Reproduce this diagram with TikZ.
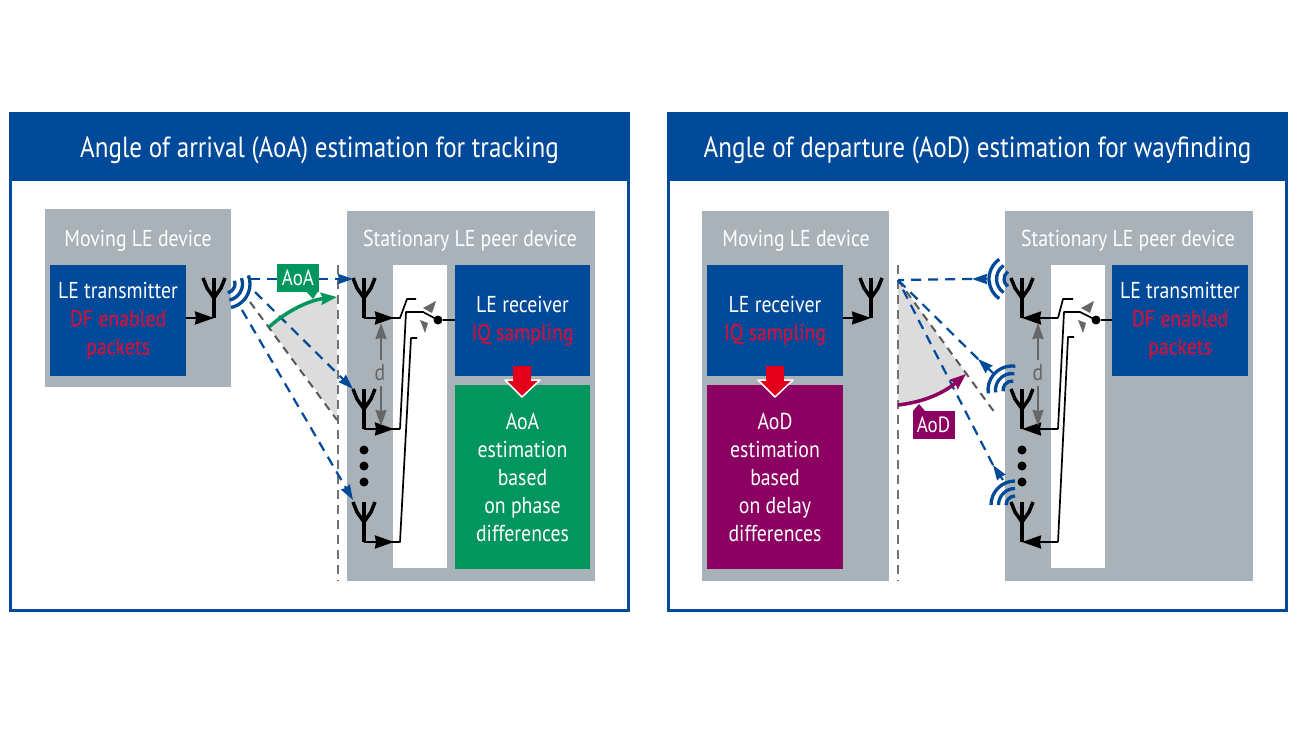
\documentclass[tikz,border=0pt]{standalone}
\usepackage{fontspec}
\setmainfont[FakeStretch=0.86]{PT Sans}
\usetikzlibrary{arrows.meta, calc}
\definecolor{leblue}{HTML}{004A99}
\definecolor{legrey}{HTML}{A9B2B8}
\definecolor{legreen}{HTML}{00965E}
\definecolor{lepurple}{HTML}{8C0062}
\definecolor{lered}{HTML}{C8143F}
\definecolor{learrow}{HTML}{E2001A}
\definecolor{lesector}{HTML}{DCDCDC}
\definecolor{ledash}{HTML}{55595C}
\newcommand{\fsize}[1]{\fontsize{#1}{28}\selectfont}
\newcommand{\redtxt}[1]{\textcolor{lered}{\addfontfeature{FakeBold=0.5}#1}}
\tikzset{
  frame/.style={draw=leblue, line width=3.5pt, outer sep=0pt, anchor=north west, minimum width=618pt, minimum height=497pt},
  headbar/.style={fill=leblue, outer sep=0pt, anchor=north west, minimum width=621pt, minimum height=69pt,
    text=white, text height=27pt, text depth=6pt, font=\fsize{29.2}},
  box/.style={anchor=north west, inner sep=0pt, outer sep=0pt, text=white, align=center, font=\fsize{23}},
  greybox/.style={box, fill=legrey},
  bluebox/.style={box, fill=leblue, minimum width=136pt, minimum height=111pt},
  whitebox/.style={box, fill=white, minimum width=54pt, minimum height=303pt},
  resultbox/.style={box, minimum width=136pt, minimum height=184pt},
  title/.style={text=white, font=\fsize{23}},
  tag/.style={text=white, inner sep=0pt, minimum width=42pt, minimum height=28pt, font=\fsize{22}},
  wire/.style={draw=black, line width=1.7pt, line join=round},
  feed/.style={draw=black, line width=2.2pt, -{Stealth[length=19pt,width=13pt,inset=1pt]}},
  ray/.style={draw=leblue, line width=2.2pt, dash pattern=on 10pt off 7pt, -{Stealth[length=15pt,width=10pt,inset=1pt]}},
  plainray/.style={draw=leblue, line width=2.2pt, dash pattern=on 10pt off 7pt},
  greyray/.style={draw=ledash, line width=2pt, dash pattern=on 8pt off 6pt},
  axis/.style={draw=ledash!85, line width=2pt, dash pattern=on 9pt off 6pt},
  wave/.style={draw=leblue, line width=3.3pt},
  gap/.style={draw=black!60, line width=2pt, -{Stealth[length=16pt,width=11pt,inset=1pt]}},
  dot/.style={circle, fill=black, inner sep=0pt, minimum size=9pt},
  antenna/.pic={
    \draw[black, line width=3.5pt] (0,0) -- (0,-40);
    \draw[black, line width=3.5pt, line join=round] (-11,-40) -- (-7,-30) -- (0,-20) -- (7,-30) -- (11,-40);
    \coordinate (-foot) at (0,0);
  }
}
% three arcs around one point
\newcommand{\rings}[3]{
  \foreach \r in {9,16.5,24} {
    \draw[wave] ([shift={(#2:\r pt)}]#1) arc (#2:#3:\r pt);
  }
}
% the grey arrows at the switch
\newcommand{\switchmark}[1]{
  \fill[black!60] ($(#1)+(-2,-19)$) -- ($(#1)+(-15,-12)$) -- ($(#1)+(-6,-7)$) -- cycle;
  \fill[black!60] ($(#1)+(-13,13)$) -- ($(#1)+(-18,0)$) -- ($(#1)+(-10,3)$) -- cycle;
}
% the red arrow between two boxes
\newcommand{\redarrow}[1]{
  \fill[learrow] ($(#1)+(-9,0)$) -- ($(#1)+(9,0)$) -- ($(#1)+(9,14)$) -- ($(#1)+(18,14)$)
    -- ($(#1)+(0,31)$) -- ($(#1)+(-17,14)$) -- ($(#1)+(-9,14)$) -- cycle;
  \draw[white, line width=1.5pt, line join=round] ($(#1)+(9,14)$) -- ($(#1)+(18,14)$) -- ($(#1)+(0,31)$)
    -- ($(#1)+(-17,14)$) -- ($(#1)+(-9,14)$);
}

\begin{document}
\begin{tikzpicture}[x=1pt, y=-1pt]
    \useasboundingbox (0,0) rectangle (1300,731);
    \fill[white] (0,0) rectangle (1300,731);

    % left panel
    \node[frame] (frameA) at (10.5,113.5) {};
    \node[headbar] (headA) at (9,112) {Angle of arrival (AoA) estimation for tracking};

    \node[greybox, minimum width=186pt, minimum height=178pt] (moveA) at (45,209) {};
    \node[title] (moveAtxt) at (138,241) {Moving LE device};
    \node[bluebox] (txA) at (50,265) {LE transmitter\\ \redtxt{DF enabled}\\ \redtxt{packets}};

    \node[greybox, minimum width=248pt, minimum height=370pt] (statA) at (347,211) {};
    \node[title] (statAtxt) at (470,241) {Stationary LE peer device};
    \node[whitebox] (slotA) at (393,265) {};
    \node[bluebox, minimum width=135pt] (rxA) at (455,265) {LE receiver\\ \redtxt{IQ sampling}};
    \node[resultbox, fill=legreen, minimum width=135pt] (estA) at (455,385) {AoA\\ estimation\\ based\\ on phase\\ differences};

    \fill[lesector] (269,327) .. controls (288,310) and (310,300) .. (337,297) -- (337,418) -- cycle;
    \coordinate (axisAt) at (338,265);
    \coordinate (axisAb) at (338,581);
    \draw[axis] (axisAt) -- (axisAb);

    \pic (srcA) at (214,318) {antenna};
    \pic (antA1) at (364,318) {antenna};
    \pic (antA2) at (364,429) {antenna};
    \pic (antA3) at (364,542) {antenna};
    \node[dot] at (364,450) {};
    \node[dot] at (364,466) {};
    \node[dot] at (364,482) {};

    \draw[feed] (txA.east |- srcA-foot) -- (srcA-foot);
    \coordinate (wavA) at (226,284);
    \rings{wavA}{-78}{21}

    \coordinate (greyAs) at (250,302);
    \coordinate (greyAe) at (337,420);
    \draw[greyray] (greyAs) -- (greyAe);
    \draw[ray] (250,279) -- (353,279);
    \draw[ray] (255,292) -- (353,389);
    \draw[ray] (242,310) -- (353,500);

    \draw[draw=legreen, line width=3.5pt, -{Stealth[length=16pt,width=12pt,inset=2pt]}]
      (269,327) .. controls (288,310) and (310,300) .. (337,297);
    \fill[legreen] (305,290) -- (313,299) -- (319,290) -- cycle;
    \node[tag, fill=legreen] (tagA) at (298,277.5) {AoA};

    \coordinate (pivotA) at (438,320);
    \draw[wire] (400,429) -- (406,312) -- (423,312) -- (pivotA);
    \draw[wire] (390,318) -- (400,318) -- (407,299) -- (416,299);
    \draw[wire] (390,429) -- (400,429);
    \draw[wire] (390,542) -- (400,542) -- (411,338) -- (417,338);
    \draw[feed] (antA1-foot) -- (394,318);
    \draw[feed] (antA2-foot) -- (394,429);
    \draw[feed] (antA3-foot) -- (394,542);
    \node[dot] (dotA) at (pivotA) {};
    \draw[wire] (dotA) -- (pivotA -| rxA.west);
    \switchmark{pivotA}
    \draw[gap] (381,360) -- (381,323);
    \draw[gap] (381,386) -- (381,426);
    \node[text=black!60, font=\fsize{23}] (dA) at (380,373) {d};

    \redarrow{522,366}

    % right panel
    \node[frame] (frameD) at (668.5,113.5) {};
    \node[headbar] (headD) at (667,112) {Angle of departure (AoD) estimation for wayfinding};

    \node[greybox, minimum width=187pt, minimum height=370pt] (moveD) at (702,211) {};
    \node[title] (moveDtxt) at (796,241) {Moving LE device};
    \node[bluebox] (rxD) at (707,265) {LE receiver\\ \redtxt{IQ sampling}};
    \node[resultbox, fill=lepurple] (estD) at (707,385) {AoD\\ estimation\\ based\\ on delay\\ differences};

    \node[greybox, minimum width=248pt, minimum height=370pt] (statD) at (1005,211) {};
    \node[title] (statDtxt) at (1128,241) {Stationary LE peer device};
    \node[whitebox] (slotD) at (1051,265) {};
    \node[bluebox] (txD) at (1112,265) {LE transmitter\\ \redtxt{DF enabled}\\ \redtxt{packets}};

    \fill[lesector] (898,280) -- (966,374) .. controls (945,392) and (925,402) .. (898,405) -- cycle;
    \coordinate (axisDt) at (898,265);
    \coordinate (axisDb) at (898,581);
    \draw[axis] (axisDt) -- (axisDb);

    \pic (sinkD) at (871,318) {antenna};
    \pic (antD1) at (1022,318) {antenna};
    \pic (antD2) at (1022,429) {antenna};
    \pic (antD3) at (1022,542) {antenna};
    \node[dot] at (1022,450) {};
    \node[dot] at (1022,466) {};
    \node[dot] at (1022,482) {};

    \draw[feed] (rxD.east |- sinkD-foot) -- (sinkD-foot);
    \coordinate (wavD1) at (1013,279);
    \coordinate (wavD2) at (1012,390);
    \coordinate (wavD3) at (1015,505);
    \rings{wavD1}{125}{235}
    \rings{wavD2}{82}{188}
    \rings{wavD3}{90}{180}

    \coordinate (rayD) at (898,280);
    \draw[greyray] (rayD) -- (995,413);
    \draw[ray] (987,279) -- (972,279);
    \draw[plainray] (972,279) -- (rayD);
    \draw[ray] (993,373) -- (978,359);
    \draw[plainray] (978,359) -- (rayD);
    \draw[ray] (1003,480) -- (993,465);
    \draw[plainray] (993,465) -- (rayD);

    \draw[draw=lepurple, line width=3.5pt, -{Stealth[length=16pt,width=12pt,inset=2pt]}]
      (898,405) .. controls (925,402) and (945,392) .. (966,374);
    \fill[lepurple] (913,411) -- (919,404) -- (925,411) -- cycle;
    \node[tag, fill=lepurple] (tagD) at (933.5,425) {AoD};

    \coordinate (pivotD) at (1096,320);
    \draw[wire] (1058,429) -- (1064,312) -- (1080,312) -- (pivotD);
    \draw[wire] (1058,318) -- (1063,299) -- (1073,299);
    \draw[wire] (1058,542) -- (1068,337) -- (1074,337);
    \draw[feed] (1058,318) -- (antD1-foot);
    \draw[feed] (1058,429) -- (antD2-foot);
    \draw[feed] (1058,542) -- (antD3-foot);
    \node[dot] (dotD) at (pivotD) {};
    \draw[wire] (dotD) -- (pivotD -| txD.west);
    \switchmark{pivotD}
    \draw[gap] (1038,360) -- (1038,323);
    \draw[gap] (1038,386) -- (1038,426);
    \node[text=black!60, font=\fsize{23}] (dD) at (1038,373) {d};

    \redarrow{775,366}
\end{tikzpicture}
\end{document}
